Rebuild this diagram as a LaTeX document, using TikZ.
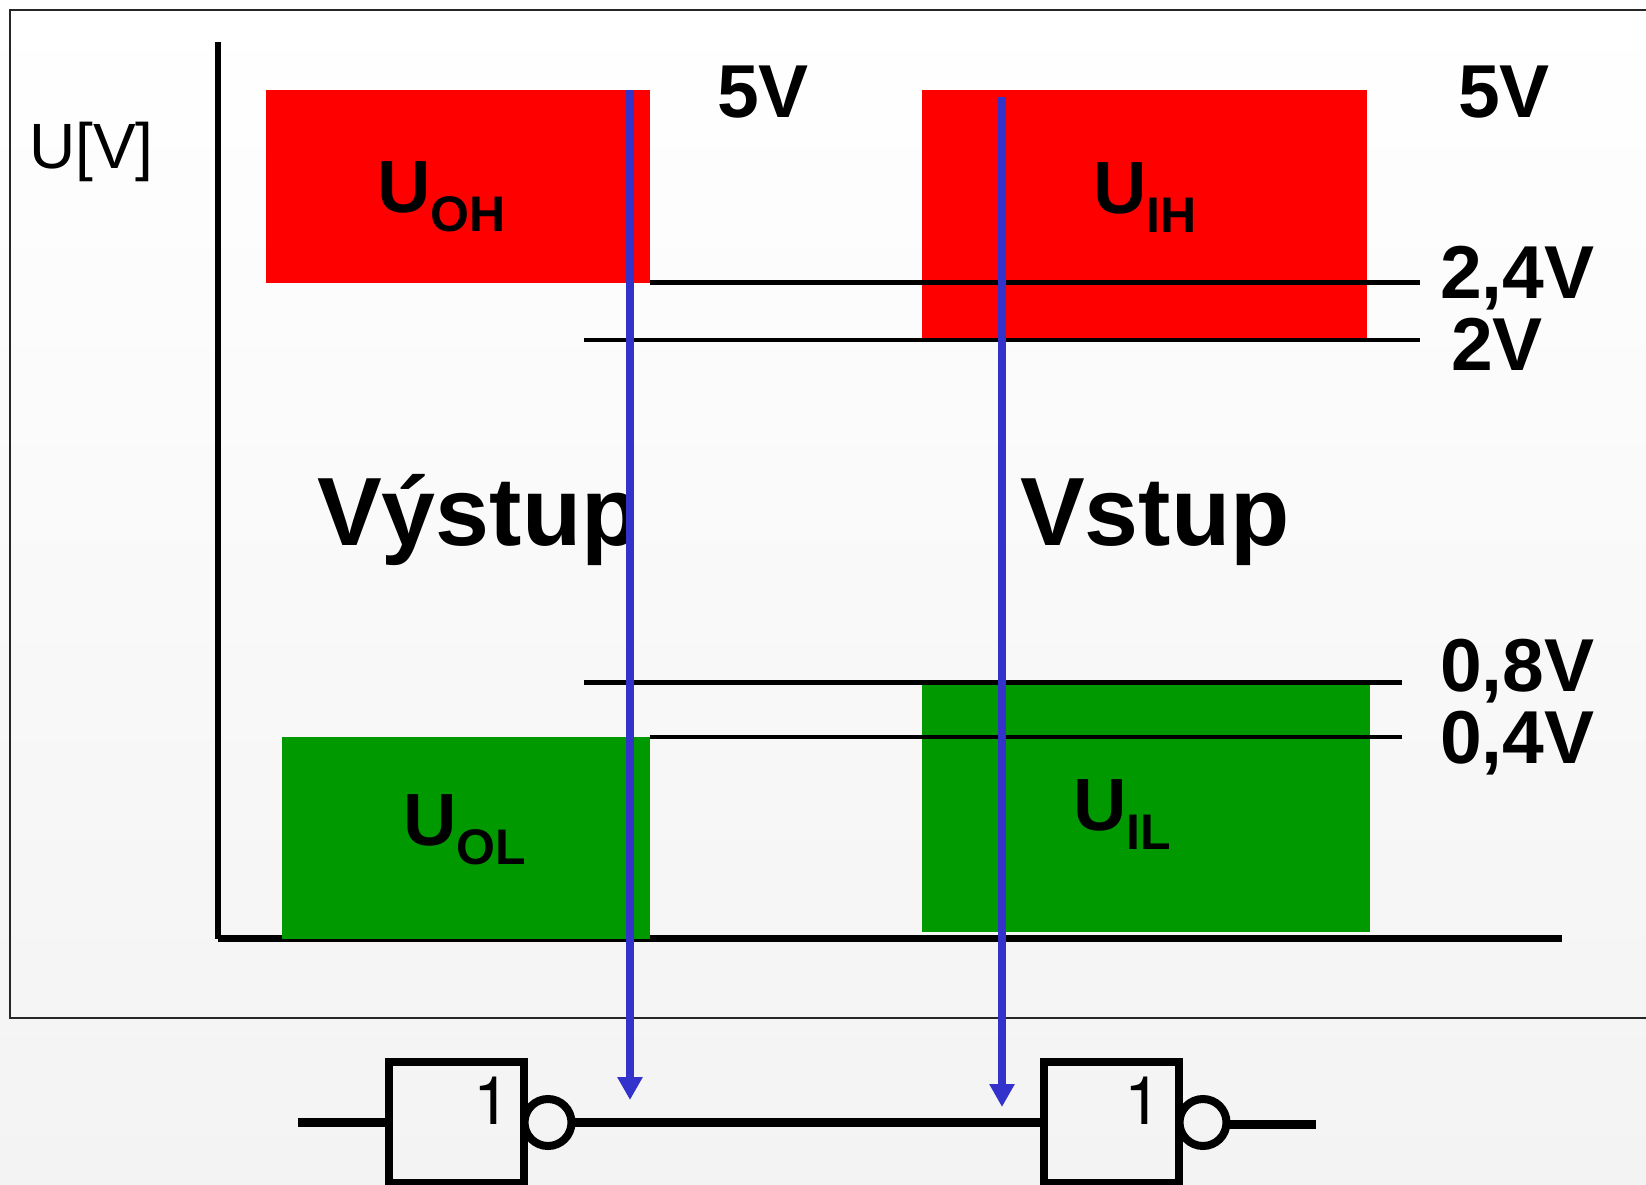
\documentclass[tikz,border=0pt]{standalone}
\usepackage{fontspec}
\setmainfont{Liberation Sans}
\newfontfamily\gatefont{TeX Gyre Heros}
\usetikzlibrary{arrows.meta}
\definecolor{sigblue}{HTML}{3333CC}
\definecolor{lowgreen}{HTML}{009900}
\definecolor{bglow}{HTML}{F3F3F3}
\newcommand{\fs}[1]{\fontsize{#1}{#1}\selectfont}
\newcommand{\lvl}[2]{{\fs{74}\bfseries #1\raisebox{-19pt}{\fs{50}\bfseries #2}}}
\tikzset{
  lbl/.style={inner sep=0pt,anchor=base west,text=black},
  volt/.style={lbl,font=\fs{75}\bfseries},
  axisline/.style={line width=6.5pt,line cap=butt},
  levelline/.style={line width=4.2pt},
  sigline/.style={draw=sigblue,line width=8.5pt,-{Triangle[length=23pt,width=24pt,fill=sigblue]}},
  gate/.style={draw=black,line width=8.5pt,fill=none,minimum width=135pt,minimum height=121pt,inner sep=0pt,anchor=center},
  bubble/.style={circle,draw=black,line width=8pt,minimum size=47pt,inner sep=0pt,anchor=center,outer sep=3.5pt},
  wire/.style={line width=9pt},
}
\begin{document}
\begin{tikzpicture}[x=1pt,y=-1pt]
\useasboundingbox (0,0) rectangle (1646,1185);
\fill[top color=white,bottom color=bglow,shading angle=0] (0,0) rectangle (1646,1185);
\draw[line width=2pt,color=black!85] (1646,10) -- (10,10) -- (10,1018) -- (1646,1018);

% axes
\coordinate (axtop) at (218,42);
\coordinate (axorigin) at (218,938.5);
\coordinate (axright) at (1562,938.5);
\draw[axisline] (axtop) -- (axorigin);
\draw[axisline] (axorigin) -- (axright);

% zones
\fill[red]       (266,90)  rectangle (650,283);
\fill[red]       (922,90)  rectangle (1367,340);
\fill[lowgreen]  (282,737) rectangle (650,939);
\fill[lowgreen]  (922,684) rectangle (1370,932);

% level lines
\coordinate (la1) at (650,282.5);  \coordinate (la2) at (1420,282.5);
\coordinate (lb1) at (584,340);    \coordinate (lb2) at (1420,340);
\coordinate (lc1) at (584,682.5);  \coordinate (lc2) at (1402,682.5);
\coordinate (ld1) at (650,737);    \coordinate (ld2) at (1402,737);
\draw[levelline] (la1) -- (la2);
\draw[levelline] (lb1) -- (lb2);
\draw[levelline] (lc1) -- (lc2);
\draw[levelline] (ld1) -- (ld2);

% texts
\node[lbl,font=\fs{64}] (uv) at (29,169) {U[V]};
\node[lbl] (uoh) at (377,213) {\lvl{U}{OH}};
\node[lbl] (uih) at (1093,214) {\lvl{U}{IH}};
\node[lbl] (uol) at (403,845) {\lvl{U}{OL}};
\node[lbl] (uil) at (1073,830) {\lvl{U}{IL}};
\node[volt] (v5a) at (717,118) {5V};
\node[volt] (v5b) at (1458,118) {5V};
\node[volt] (v24) at (1440,298) {2,4V};
\node[volt] (v2) at (1451,370) {2V};
\node[volt] (v08) at (1440,691) {0,8V};
\node[volt] (v04) at (1440,763) {0,4V};
\begin{scope}
\clip (300,440) rectangle (630,600);
\node[lbl,font=\fs{97}\bfseries] (vystup) at (317,545) {Výstup};
\end{scope}
\node[lbl,font=\fs{97}\bfseries] (vstup) at (1020,545) {Vstup};

% gates
\node[gate] (g1) at (456.5,1122.5) {};
\node[gate] (g2) at (1111.5,1122.5) {};
\node[lbl,font=\gatefont\fs{67}] (one1) at (473,1124) {1};
\node[lbl,font=\gatefont\fs{67}] (one2) at (1124,1124) {1};
\node[bubble] (b1) at (548,1122.5) {};
\node[bubble] (b2) at (1203,1122.5) {};
\coordinate (inl) at (298,1122.5);
\coordinate (outr) at (1316,1124);
\draw[wire] (inl) -- (g1.west);
\draw[wire] (b1.east) -- (g2.west);
\draw[wire] (b2.east |- outr) -- (outr);

% blue signal arrows
\coordinate (s1t) at (630,90);   \coordinate (s1b) at (630,1100);
\coordinate (s2t) at (1002,97);  \coordinate (s2b) at (1002,1107);
\draw[sigline] (s1t) -- (s1b);
\draw[sigline] (s2t) -- (s2b);
\end{tikzpicture}
\end{document}
